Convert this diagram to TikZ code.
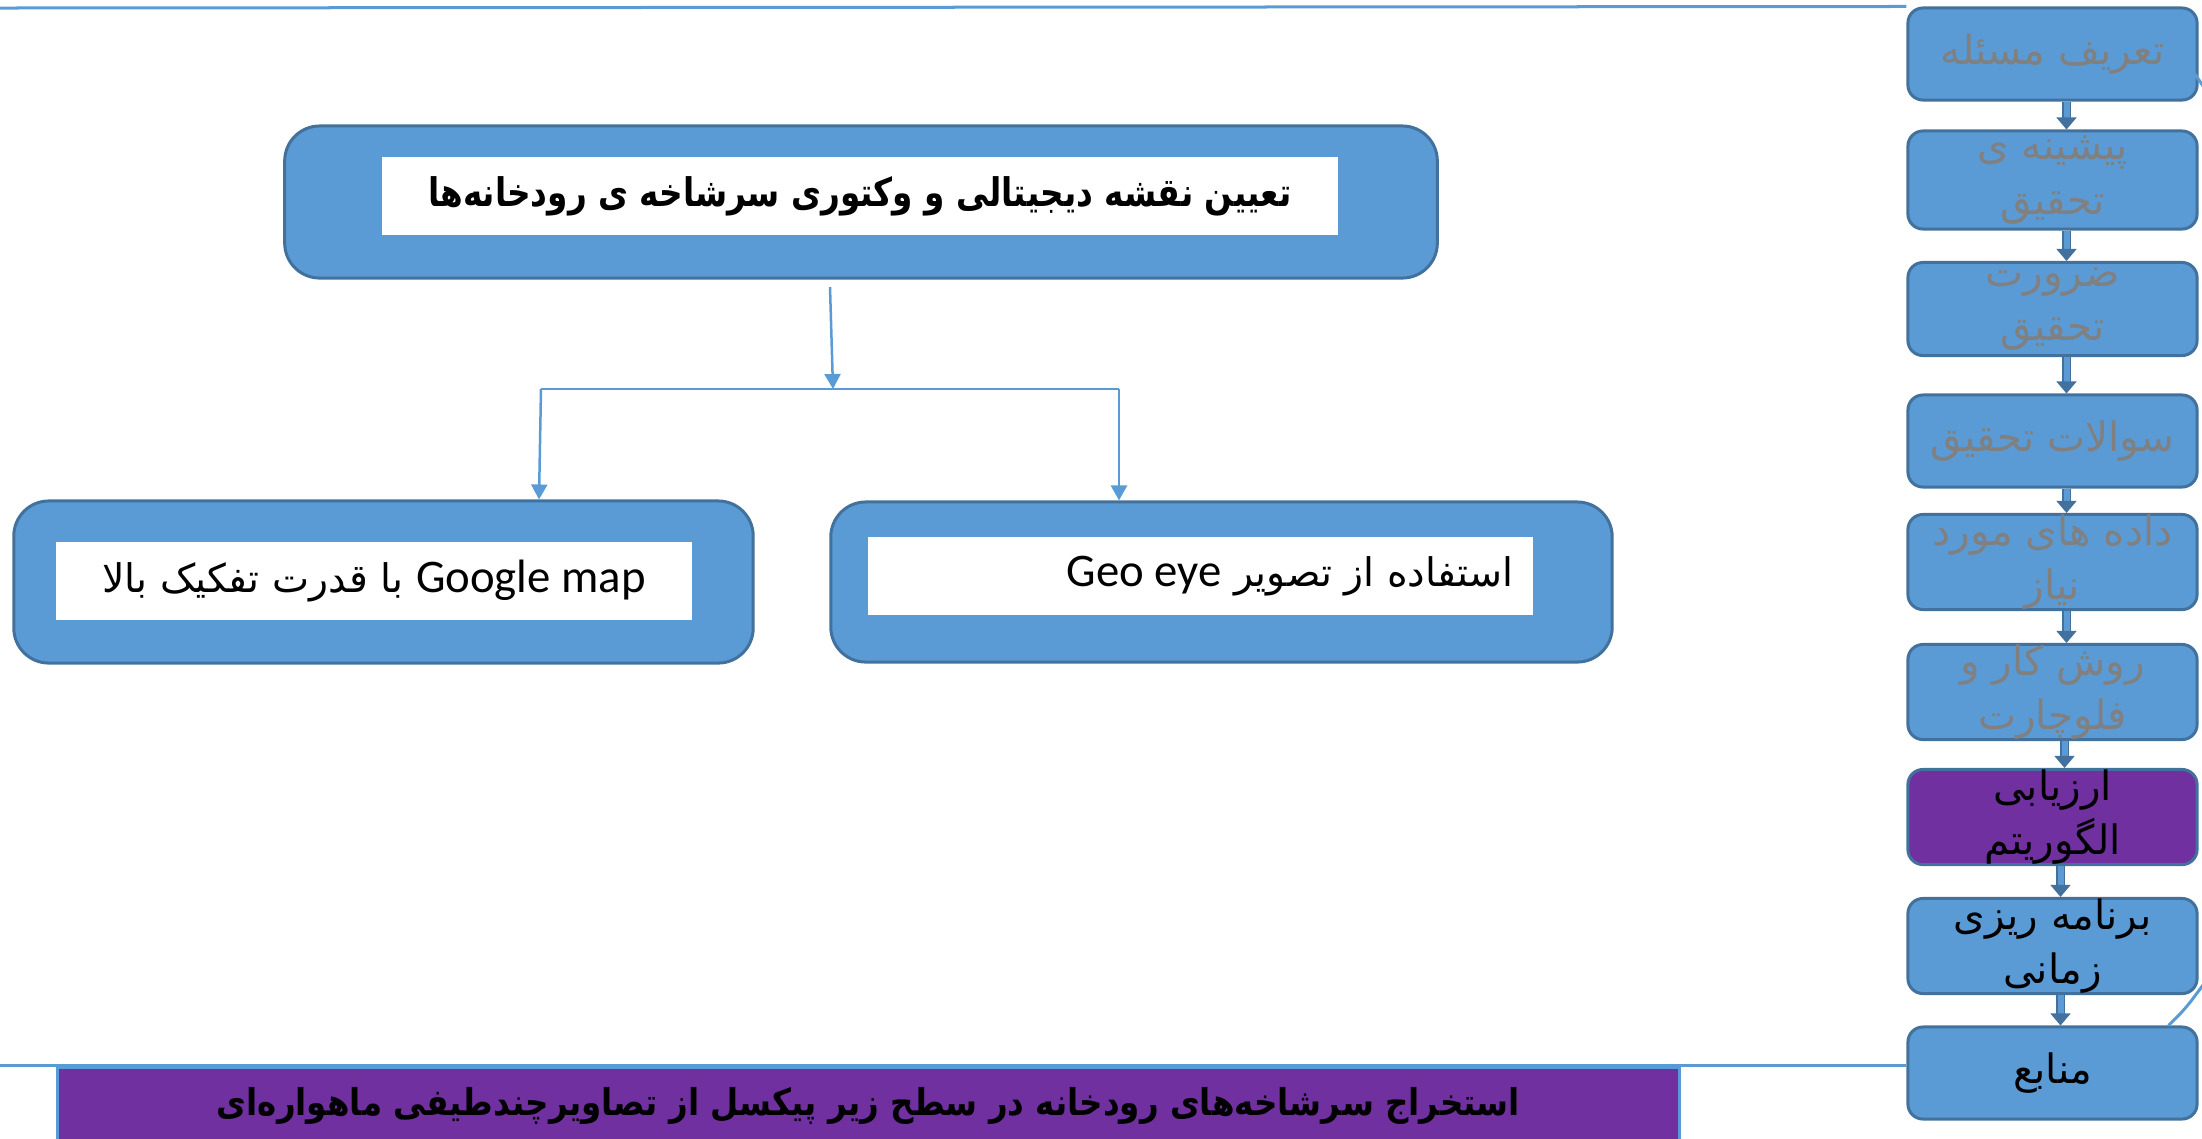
\documentclass[tikz,border=0pt]{standalone}
\usepackage{fontspec}
\usetikzlibrary{arrows.meta}
\newfontfamily\arabicfont[Script=Arabic]{DejaVu Sans}
\newfontfamily\latinfont{Carlito}
\TeXXeTstate=1
\definecolor{boxblue}{HTML}{5B9BD5}
\definecolor{edgeblue}{HTML}{41719C}
\definecolor{stagepurple}{HTML}{7030A0}
\definecolor{fadedgray}{HTML}{808080}

\begin{document}
\begin{tikzpicture}[x=0.01cm, y=-0.01cm,
	stagebox/.style={draw=edgeblue, fill=boxblue, line width=0.03cm, rounded corners=0.15cm, minimum width=2.89cm, inner sep=0pt, align=center, text=fadedgray, font=\arabicfont\fontsize{11.5}{15.5}\selectfont},
	donebox/.style={stagebox, text=black},
	bigbox/.style={draw=edgeblue, fill=boxblue, line width=0.03cm, rounded corners=0.35cm, inner sep=0pt},
	whitebox/.style={fill=white, inner sep=0pt, font=\arabicfont\fontsize{11.2}{13}\selectfont},
	stagearrow/.style={draw=edgeblue, double=boxblue, double distance=0.06cm, line width=0.015cm, -{Triangle[width=0.2cm, length=0.12cm]}},
	feed/.style={draw=boxblue, line width=0.025cm, -{Triangle[width=0.16cm, length=0.15cm]}},
	guide/.style={draw=boxblue, line width=0.03cm}]
			\useasboundingbox (0,0) rectangle (2202,1138) ;

			% boxes on right
			\node[stagebox, minimum height=0.92cm] (b1) at (2052.5,54) {\beginR تعریف مسئله\endR} ;
			\node[stagebox, minimum height=0.98cm] (b2) at (2052.5,180) {\beginR پیشینه ی\endR\\\beginR تحقیق\endR} ;
			\node[stagebox, minimum height=0.93cm] (b3) at (2052.5,309) {\beginR ضرورت\endR\\\beginR تحقیق\endR} ;
			\node[stagebox, minimum height=0.92cm] (b4) at (2052.5,441) {\beginR سوالات تحقیق\endR} ;
			\node[stagebox, minimum height=0.91cm] (b5) at (2052.5,562) {\beginR داده های مورد\endR\\\beginR نیاز\endR} ;
			\node[stagebox, minimum height=0.91cm] (b6) at (2052.5,692) {\beginR روش کار و\endR\\\beginR فلوچارت\endR} ;
			\node[donebox, fill=stagepurple, minimum height=0.91cm] (b7) at (2052.5,817) {\beginR ارزیابی\endR\\\beginR الگوریتم\endR} ;
			\node[donebox, minimum height=0.91cm] (b8) at (2052.5,946) {\beginR برنامه ریزی\endR\\\beginR زمانی\endR} ;
			\node[donebox, minimum height=0.92cm] (b9) at (2052.5,1073) {\beginR منابع\endR} ;

			% arrows on right
			\draw[stagearrow] ([xshift=0.14cm]b1.south) -- ([xshift=0.14cm]b2.north) ;
			\draw[stagearrow] ([xshift=0.14cm]b2.south) -- ([xshift=0.14cm]b3.north) ;
			\draw[stagearrow] ([xshift=0.14cm]b3.south) -- ([xshift=0.14cm]b4.north) ;
			\draw[stagearrow] ([xshift=0.14cm]b4.south) -- ([xshift=0.14cm]b5.north) ;
			\draw[stagearrow] ([xshift=0.14cm]b5.south) -- ([xshift=0.14cm]b6.north) ;
			\draw[stagearrow] ([xshift=0.12cm]b6.south) -- ([xshift=0.12cm]b7.north) ;
			\draw[stagearrow] ([xshift=0.08cm]b7.south) -- ([xshift=0.08cm]b8.north) ;
			\draw[stagearrow] ([xshift=0.08cm]b8.south) -- ([xshift=0.08cm]b9.north) ;

			% frame lines
			\draw[guide] (0,8) -- (b1.north west) ;
			\draw[guide] (2195,74) -- (2203,86) ;
			\draw[guide] (0,1065) -- (b9.west |- 0,1065) ;
			\draw[guide] ([xshift=-0.3cm]b9.north east) .. controls (2186,1008) .. (2203,985) ;

			% main boxes
			\node[bigbox, minimum width=11.52cm, minimum height=1.52cm] (goal) at (861,202) {} ;
			\node[whitebox, minimum width=9.56cm, minimum height=0.78cm] (goalin) at (860,196) {\scalebox{0.83}[1]{\bfseries\beginR تعیین نقشه دیجیتالی و وکتوری سرشاخه ی رودخانه‌ها\endR}} ;

			\node[bigbox, minimum width=7.39cm, minimum height=1.62cm] (gmap) at (383.5,582) {} ;
			\node[whitebox, minimum width=6.36cm, minimum height=0.78cm] (gmapin) at (374,581) {\beginR\beginL{\latinfont\fontsize{13.3}{15}\selectfont Google map}\endL{} با قدرت تفکیک بالا\endR} ;

			\node[bigbox, minimum width=7.81cm, minimum height=1.6cm] (geo) at (1221.5,582) {} ;
			\node[whitebox, minimum width=6.65cm, minimum height=0.78cm] (geoin) at (1200.5,576) {} ;
			\node[whitebox, fill=none, anchor=east] (geotext) at (1514,576) {\beginR استفاده از تصویر \beginL{\latinfont\fontsize{13.3}{15}\selectfont Geo eye}\endL\endR} ;

			% arrows between main boxes
			\coordinate (tstart) at (830,287) ;
			\coordinate (split) at (833,389) ;
			\coordinate (lcorner) at (541,389) ;
			\coordinate (rcorner) at (1119,389) ;
			\draw[feed] (tstart) -- (split) ;
			\draw[draw=boxblue, line width=0.015cm] (lcorner) -- (rcorner) ;
			\draw[feed] (lcorner) -- ([xshift=-0.02cm]lcorner |- gmap.north) ;
			\draw[feed] (rcorner) -- (rcorner |- geo.north) ;

			% title bar
			\node[fill=stagepurple, draw=boxblue, line width=0.03cm, minimum width=16.21cm, minimum height=0.78cm, inner sep=0pt, font=\arabicfont\bfseries\fontsize{10.5}{12}\selectfont] (title) at (868.5,1106) {\scalebox{0.88}[1]{\beginR استخراج سرشاخه‌های رودخانه در سطح زیر پیکسل از تصاویرچندطیفی ماهواره‌ای\endR}} ;

\end{tikzpicture}
\end{document}
